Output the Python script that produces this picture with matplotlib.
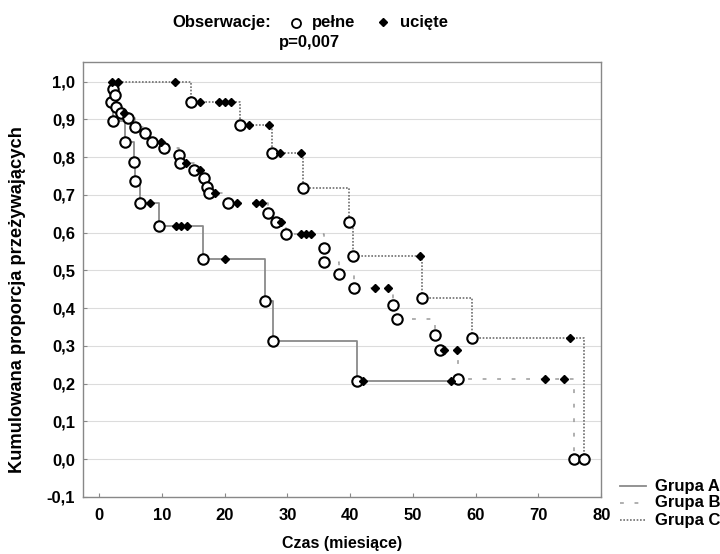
import matplotlib
matplotlib.use("Agg")
import matplotlib.pyplot as plt
from matplotlib.lines import Line2D

plt.rcParams['font.family'] = ['Liberation Sans', 'DejaVu Sans']
plt.rcParams['font.weight'] = 'bold'

# Kaplan-Meier data: event times with survival after each event, censored times
A_start = 1.9
A_event_t = [1.9, 2.2, 4.2, 5.6, 5.7, 6.6, 9.5, 16.5, 26.4, 27.7, 41.1]
A_event_s = [0.947, 0.896, 0.841, 0.787, 0.737, 0.678, 0.618, 0.530, 0.420, 0.313, 0.207]
A_cens_t = [8.1, 12.2, 13.1, 14.0, 20.0, 42.0, 56.1]

B_start = 2.0
B_event_t = [2.3, 2.5, 2.7, 3.5, 4.6, 5.7, 7.4, 8.4, 10.4, 12.8, 12.9, 15.1, 16.7, 17.2,
             17.5, 20.5, 26.9, 28.2, 29.8, 35.8, 35.9, 38.3, 40.6, 46.9, 47.5, 53.6,
             54.3, 57.2, 75.7]
B_event_s = [0.981, 0.965, 0.934, 0.916, 0.903, 0.881, 0.863, 0.841, 0.824, 0.806, 0.784,
             0.767, 0.744, 0.722, 0.704, 0.678, 0.651, 0.627, 0.596, 0.559, 0.523, 0.490,
             0.453, 0.409, 0.371, 0.329, 0.288, 0.212, 0.0]
B_cens_t = [4.0, 9.9, 13.9, 16.1, 18.4, 22.0, 25.0, 26.0, 29.0, 32.1, 32.9, 33.8, 44.0,
            46.0, 55.0, 57.0, 71.1, 74.0]

C_start = 2.0
C_event_t = [14.7, 22.4, 27.5, 32.5, 39.8, 40.4, 51.5, 59.4, 77.2]
C_event_s = [0.945, 0.885, 0.810, 0.718, 0.629, 0.538, 0.428, 0.322, 0.0]
C_cens_t = [2.0, 3.0, 12.05, 16.1, 19.1, 20.0, 21.1, 23.9, 27.1, 28.9, 32.2, 51.1, 75.1]

groups = ['Grupa A', 'Grupa B', 'Grupa C']
yticks = [-0.1, 0.0, 0.1, 0.2, 0.3, 0.4, 0.5, 0.6, 0.7, 0.8, 0.9, 1.0]
xticks = [0, 10, 20, 30, 40, 50, 60, 70, 80]

styles = {
    'Grupa A': dict(color='#8a8a8a', linestyle='-', linewidth=1.3),
    'Grupa B': dict(color='#9a9a9a', linestyle=(0, (2.5, 7)), linewidth=1.1),
    'Grupa C': dict(color='#6e6e6e', linestyle=(0, (1, 1)), linewidth=1.2),
}

data = {
    'Grupa A': (A_start, A_event_t, A_event_s, A_cens_t),
    'Grupa B': (B_start, B_event_t, B_event_s, B_cens_t),
    'Grupa C': (C_start, C_event_t, C_event_s, C_cens_t),
}


def surv_at(t, ev_t, ev_s):
    s = 1.0
    for et, es in zip(ev_t, ev_s):
        if et <= t:
            s = es
    return s


W, H = 720, 554
fig = plt.figure(figsize=(W / 100, H / 100), dpi=100)
ax = fig.add_axes([0.1157, 0.103, 0.7193, 0.785])

for g in groups:
    start, ev_t, ev_s, cens_t = data[g]
    end = max(ev_t + cens_t)
    xs = [start] + ev_t + [end]
    ys = [1.0] + ev_s + [surv_at(end, ev_t, ev_s)]
    ax.step(xs, ys, where='post', zorder=2, **styles[g])

for g in groups:
    start, ev_t, ev_s, cens_t = data[g]
    ax.plot(ev_t, ev_s, linestyle='none', marker='o', markersize=7.5,
            markerfacecolor='white', markeredgecolor='black', markeredgewidth=1.5, zorder=4)
    cs = [surv_at(t, ev_t, ev_s) for t in cens_t]
    ax.plot(cens_t, cs, linestyle='none', marker='D', markersize=4.5,
            color='black', zorder=5)

ax.set_xlim(-2.5, 80)
ax.set_ylim(-0.1, 1.052)
ax.set_xticks(xticks)
ax.set_xticklabels([str(v) for v in xticks], fontsize=12, fontweight='bold')
ax.set_yticks(yticks)
ax.set_yticklabels([f"{v:.1f}".replace('.', ',') for v in yticks], fontsize=12,
                   fontweight='bold')
ax.tick_params(direction='in', length=3, color='#888888')
ax.tick_params(axis='x', pad=8)
ax.tick_params(axis='y', pad=6)
ax.yaxis.grid(True, color='#dcdcdc', linewidth=0.8)
ax.set_axisbelow(True)
for sp in ax.spines.values():
    sp.set_color('#888888')
    sp.set_linewidth(1.0)

ax.set_xlabel('Czas (miesiące)', fontsize=11.5, fontweight='bold', labelpad=9)
fig.text(18 / W, 1 - 300 / H, 'Kumulowana proporcja przeżywających', rotation=90,
         fontsize=13.2, fontweight='bold', ha='center', va='center')


def fx(px):
    return px / W


def fy(py):
    return 1 - py / H


# header with observation symbols
fig.text(fx(222), fy(23), 'Obserwacje:', fontsize=12, fontweight='bold', ha='center', va='center')
fig.add_artist(Line2D([fx(296)], [fy(23)], marker='o', markersize=6.5, markerfacecolor='white',
                      markeredgecolor='black', markeredgewidth=1.3, transform=fig.transFigure))
fig.text(fx(312), fy(23), 'pełne', fontsize=12, fontweight='bold', ha='left', va='center')
fig.add_artist(Line2D([fx(383)], [fy(22)], marker='D', markersize=4, color='black',
                      transform=fig.transFigure))
fig.text(fx(400), fy(23), 'ucięte', fontsize=12, fontweight='bold', ha='left', va='center')
fig.text(fx(309), fy(43), 'p=0,007', fontsize=12, fontweight='bold', ha='center', va='center')

# group key beside the plot
for i, g in enumerate(groups):
    yy = 486 + 17 * i
    fig.add_artist(Line2D([fx(620), fx(646)], [fy(yy), fy(yy)], transform=fig.transFigure,
                          **styles[g]))
    fig.text(fx(655), fy(yy), g, fontsize=12, fontweight='bold', ha='left', va='center')

fig.savefig('out.png', dpi=100)
